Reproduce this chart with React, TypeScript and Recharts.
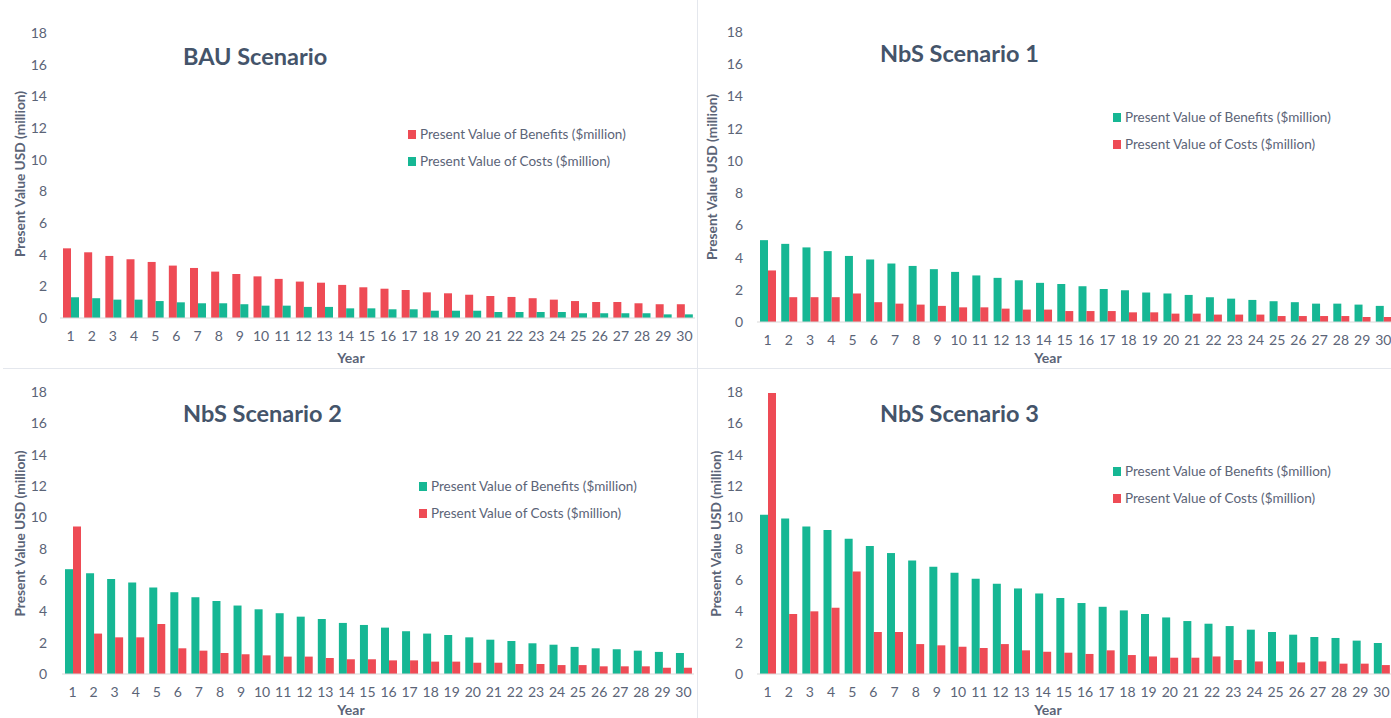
import React from "react"
import { BarChart, Bar, XAxis, YAxis, Legend } from "recharts"

const years = Array.from({ length: 30 }, (_, i) => String(i + 1))
const yTicks = [0, 2, 4, 6, 8, 10, 12, 14, 16, 18]

// BAU
const bauBenefits = [4.4, 4.15, 3.92, 3.71, 3.54, 3.31, 3.16, 2.93, 2.78, 2.63, 2.47, 2.3, 2.23, 2.09, 1.94, 1.85, 1.77, 1.62, 1.56, 1.47, 1.39, 1.33, 1.25, 1.16, 1.07, 1.01, 1.01, 0.93, 0.87, 0.87]
const bauCosts = [1.31, 1.25, 1.16, 1.16, 1.07, 0.99, 0.93, 0.93, 0.87, 0.78, 0.78, 0.7, 0.7, 0.61, 0.61, 0.55, 0.55, 0.46, 0.46, 0.46, 0.38, 0.38, 0.38, 0.38, 0.3, 0.3, 0.3, 0.3, 0.23, 0.23]

// NbS 1
const nbs1Benefits = [5.08, 4.85, 4.63, 4.4, 4.1, 3.88, 3.63, 3.48, 3.28, 3.11, 2.89, 2.74, 2.59, 2.43, 2.36, 2.22, 2.05, 1.97, 1.83, 1.77, 1.68, 1.54, 1.45, 1.37, 1.29, 1.23, 1.14, 1.14, 1.08, 1.0]
const nbs1Costs = [3.2, 1.54, 1.54, 1.54, 1.77, 1.23, 1.14, 1.08, 1.0, 0.91, 0.91, 0.83, 0.77, 0.77, 0.68, 0.68, 0.68, 0.6, 0.6, 0.52, 0.52, 0.46, 0.46, 0.46, 0.37, 0.37, 0.37, 0.37, 0.31, 0.31]

// NbS 2
const nbs2Benefits = [6.69, 6.43, 6.07, 5.84, 5.52, 5.22, 4.9, 4.66, 4.37, 4.13, 3.88, 3.66, 3.51, 3.26, 3.13, 2.96, 2.73, 2.58, 2.49, 2.34, 2.19, 2.11, 1.96, 1.87, 1.73, 1.64, 1.58, 1.49, 1.41, 1.34]
const nbs2Costs = [9.41, 2.58, 2.34, 2.34, 3.19, 1.64, 1.49, 1.34, 1.26, 1.19, 1.11, 1.11, 1.02, 0.94, 0.94, 0.87, 0.87, 0.79, 0.79, 0.72, 0.72, 0.64, 0.64, 0.57, 0.57, 0.49, 0.49, 0.49, 0.4, 0.4]

// NbS 3
const nbs3Benefits = [10.17, 9.93, 9.42, 9.19, 8.63, 8.17, 7.72, 7.25, 6.85, 6.46, 6.08, 5.76, 5.46, 5.14, 4.85, 4.53, 4.29, 4.06, 3.83, 3.61, 3.38, 3.21, 3.06, 2.83, 2.68, 2.51, 2.36, 2.3, 2.13, 1.98]
const nbs3Costs = [17.94, 3.83, 4.0, 4.23, 6.55, 2.68, 2.68, 1.91, 1.83, 1.74, 1.66, 1.91, 1.51, 1.42, 1.36, 1.28, 1.51, 1.21, 1.12, 1.04, 1.04, 1.12, 0.89, 0.8, 0.8, 0.74, 0.8, 0.66, 0.66, 0.57]

const RED = "#ee4b55"
const TEAL = "#16b794"
const TEXT = "#5b6477"
const TITLE = "#44546a"
const FONT = "Lato, 'Open Sans', sans-serif"

const build = (benefits: number[], costs: number[]) =>
  years.map((year, i) => ({ year, benefits: benefits[i], costs: costs[i] }))

const LegendBox = (props: any) => {
  const { payload } = props
  return (
    <div style={{ fontFamily: FONT, fontSize: 13.5, color: TEXT }}>
      {(payload || []).map((p: any) => (
        <div key={p.value} style={{ height: 27, display: "flex", alignItems: "center", whiteSpace: "nowrap" }}>
          <span style={{ width: 8, height: 9, background: p.color, display: "inline-block", marginRight: 4 }} />
          {p.value}
        </div>
      ))}
    </div>
  )
}

type PanelProps = {
  title: string
  data: any[]
  benefitsColor: string
  costsColor: string
  left: number
  top: number
  width: number
  height: number
  margin: { top: number; right: number; bottom: number }
  yWidth: number
  yTickMargin: number
  titleY: number
  yLabel: [number, number]
  yearY: number
  legendPos: [number, number]
}

function Panel(p: PanelProps) {
  return (
    <div style={{ position: "absolute", left: p.left, top: p.top, width: p.width, height: p.height }}>
      <BarChart
        width={p.width}
        height={p.height}
        data={p.data}
        margin={{ top: p.margin.top, right: p.margin.right, bottom: p.margin.bottom, left: 0 }}
        barGap={0}
      >
        <XAxis
          dataKey="year"
          interval={0}
          tickLine={false}
          tickSize={0}
          tickMargin={13}
          height={40}
          axisLine={{ stroke: "#d9d9d9" }}
          tick={{ fill: TEXT, fontSize: 14, fontFamily: FONT }}
          label={{
            content: () => (
              <text x={351} y={p.yearY} textAnchor="middle" dominantBaseline="central" fill={TEXT} fontFamily={FONT} fontSize={14} fontWeight="bold">
                Year
              </text>
            ),
          }}
        />
        <YAxis
          type="number"
          domain={[0, 18]}
          ticks={yTicks}
          width={p.yWidth}
          axisLine={false}
          tickLine={false}
          tickSize={0}
          tickMargin={p.yTickMargin}
          tick={{ fill: TEXT, fontSize: 14, fontFamily: FONT }}
          label={{
            content: () => (
              <text
                x={p.yLabel[0]}
                y={p.yLabel[1]}
                transform={`rotate(-90 ${p.yLabel[0]} ${p.yLabel[1]})`}
                textAnchor="middle"
                dominantBaseline="central"
                fill={TEXT}
                fontFamily={FONT}
                fontSize={13.7}
                fontWeight="bold"
              >
                Present Value USD (million)
              </text>
            ),
          }}
        />
        <Legend
          layout="vertical"
          verticalAlign="middle"
          align="center"
          content={<LegendBox />}
          wrapperStyle={{ left: p.legendPos[0], top: p.legendPos[1] - 13.5, width: "auto" }}
        />
        <Bar dataKey="benefits" name="Present Value of Benefits ($million)" fill={p.benefitsColor} barSize={8} isAnimationActive={false} />
        <Bar dataKey="costs" name="Present Value of Costs ($million)" fill={p.costsColor} barSize={8} isAnimationActive={false} />
      </BarChart>
      <div
        style={{
          position: "absolute",
          left: 183,
          top: p.titleY - 15,
          height: 30,
          lineHeight: "30px",
          fontFamily: FONT,
          fontWeight: "bold",
          fontSize: 23.5,
          color: TITLE,
          whiteSpace: "nowrap",
        }}
      >
        {p.title}
      </div>
    </div>
  )
}

export default function App() {
  return (
    <div style={{ position: "absolute", left: 0, top: 0, width: 1391, height: 718, overflow: "hidden", background: "#fff" }}>
      <Panel
        title="BAU Scenario"
        data={build(bauBenefits, bauCosts)}
        benefitsColor={RED}
        costsColor={TEAL}
        left={0}
        top={0}
        width={697}
        height={368}
        margin={{ top: 33, right: 2, bottom: 10 }}
        yWidth={60}
        yTickMargin={13}
        titleY={56}
        yLabel={[19, 174]}
        yearY={357}
        legendPos={[408, 134]}
      />
      <Panel
        title="NbS Scenario 1"
        data={build(nbs1Benefits, nbs1Costs)}
        benefitsColor={TEAL}
        costsColor={RED}
        left={697}
        top={0}
        width={700}
        height={368}
        margin={{ top: 32, right: 3, bottom: 6 }}
        yWidth={60}
        yTickMargin={14}
        titleY={53}
        yLabel={[14, 177]}
        yearY={357}
        legendPos={[416, 117]}
      />
      <Panel
        title="NbS Scenario 2"
        data={build(nbs2Benefits, nbs2Costs)}
        benefitsColor={TEAL}
        costsColor={RED}
        left={0}
        top={368}
        width={697}
        height={350}
        margin={{ top: 24, right: 3, bottom: 4 }}
        yWidth={62}
        yTickMargin={15}
        titleY={45}
        yLabel={[19, 165.5]}
        yearY={341.5}
        legendPos={[419, 118]}
      />
      <Panel
        title="NbS Scenario 3"
        data={build(nbs3Benefits, nbs3Costs)}
        benefitsColor={TEAL}
        costsColor={RED}
        left={697}
        top={368}
        width={700}
        height={350}
        margin={{ top: 24, right: 5, bottom: 4 }}
        yWidth={60}
        yTickMargin={14}
        titleY={45}
        yLabel={[18.5, 165.7]}
        yearY={341.5}
        legendPos={[416, 103]}
      />
      <div style={{ position: "absolute", left: 3, top: 368, width: 1388, height: 1, background: "#e4e7ed" }} />
      <div style={{ position: "absolute", left: 697, top: 0, width: 1, height: 718, background: "#e4e7ed" }} />
    </div>
  )
}
